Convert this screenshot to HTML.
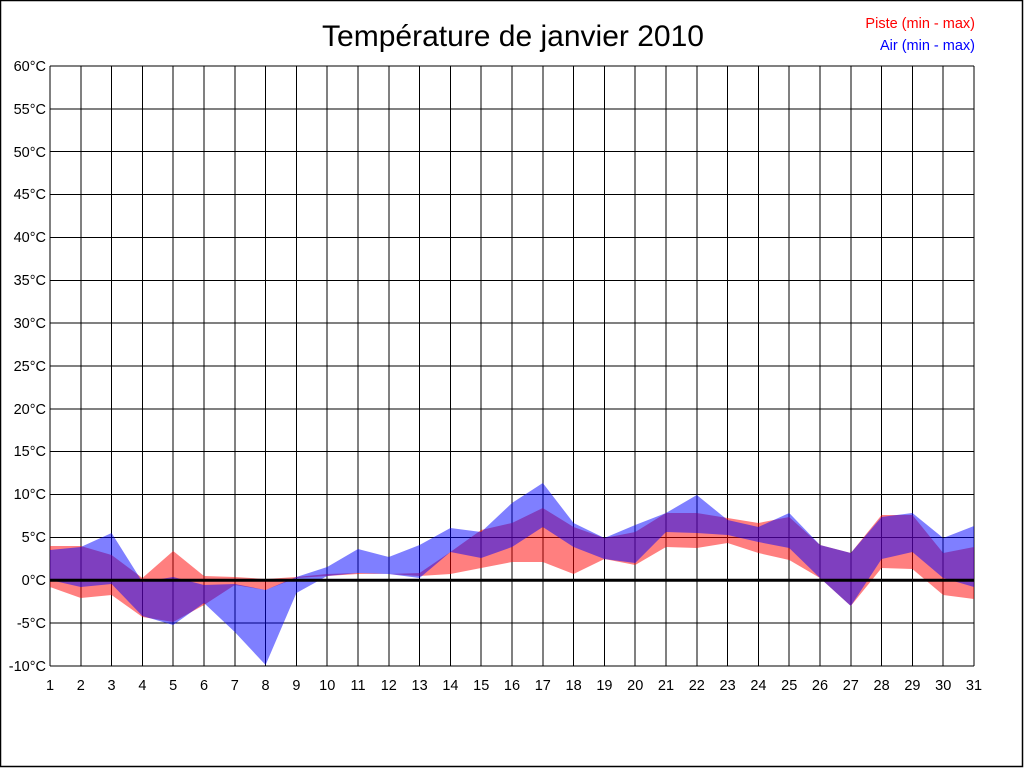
<!DOCTYPE html>
<html><head><meta charset="utf-8"><style>
html,body{margin:0;padding:0;background:#fff}
svg{display:block}
text{font-family:"Liberation Sans",Arial,sans-serif}
</style></head><body>
<svg width="1024" height="768" viewBox="0 0 1024 768" xmlns="http://www.w3.org/2000/svg">
<rect x="0.5" y="0.5" width="1022" height="766" fill="#fff" stroke="#000" stroke-width="1.5"/>
<text x="513" y="46" font-size="30" text-anchor="middle">Température de janvier 2010</text>
<text x="975" y="28" font-size="14.5" fill="#f00" text-anchor="end">Piste (min - max)</text>
<text x="975" y="50" font-size="14.5" fill="#00f" text-anchor="end">Air (min - max)</text>
<g stroke="#000" stroke-width="1" shape-rendering="crispEdges">
<path d="M50 66V666M80.8 66V666M111.6 66V666M142.4 66V666M173.2 66V666M204 66V666M234.8 66V666M265.6 66V666M296.4 66V666M327.2 66V666M358 66V666M388.8 66V666M419.6 66V666M450.4 66V666M481.2 66V666M512 66V666M542.8 66V666M573.6 66V666M604.4 66V666M635.2 66V666M666 66V666M696.8 66V666M727.6 66V666M758.4 66V666M789.2 66V666M820 66V666M850.8 66V666M881.6 66V666M912.4 66V666M943.2 66V666M974 66V666"/>
<path d="M50 66H974M50 108.9H974M50 151.7H974M50 194.6H974M50 237.4H974M50 280.3H974M50 323.1H974M50 366H974M50 408.9H974M50 451.7H974M50 494.6H974M50 537.4H974M50 623.1H974M50 666H974"/>
</g>
<polygon fill="rgba(255,0,0,0.5)" points="50,546 80.8,546 111.6,555 142.4,578 173.2,551 204,576 234.8,577 265.6,579 296.4,577 327.2,574 358,573 388.8,574 419.6,573 450.4,552 481.2,530 512,523 542.8,508 573.6,527 604.4,538 635.2,532 666,513 696.8,513 727.6,518 758.4,523 789.2,517 820,545 850.8,553 881.6,515 912.4,515 943.2,553 974,547 974,599 943.2,595 912.4,569 881.6,568 850.8,606 820,578 789.2,560 758.4,553 727.6,543 696.8,548 666,547 635.2,565 604.4,559 573.6,574 542.8,562 512,562 481.2,568 450.4,574 419.6,576 388.8,574 358,574 327.2,576 296.4,578 265.6,590 234.8,585 204,605 173.2,622 142.4,617 111.6,595 80.8,598 50,587"/>
<polygon fill="rgba(0,0,255,0.5)" points="50,550 80.8,547 111.6,533 142.4,582 173.2,577 204,585 234.8,584 265.6,590 296.4,577 327.2,567 358,549 388.8,557 419.6,545 450.4,528 481.2,532 512,503 542.8,483 573.6,523 604.4,538 635.2,525 666,513 696.8,495 727.6,520 758.4,527 789.2,513 820,545 850.8,553 881.6,517 912.4,513 943.2,538 974,526 974,587 943.2,578 912.4,552 881.6,559 850.8,606 820,578 789.2,548 758.4,542 727.6,535 696.8,533 666,532 635.2,563 604.4,559 573.6,547 542.8,527 512,547 481.2,558 450.4,552 419.6,578 388.8,574 358,573 327.2,576 296.4,593 265.6,665 234.8,632 204,603 173.2,625 142.4,616 111.6,584 80.8,587 50,580"/>
<line x1="50" y1="580.3" x2="974" y2="580.3" stroke="#000" stroke-width="3"/>
<g font-size="14.5" text-anchor="end" fill="#000">
<text x="46" y="71">60°C</text><text x="46" y="114">55°C</text><text x="46" y="157">50°C</text><text x="46" y="199">45°C</text><text x="46" y="242">40°C</text><text x="46" y="285">35°C</text><text x="46" y="328">30°C</text><text x="46" y="371">25°C</text><text x="46" y="414">20°C</text><text x="46" y="456">15°C</text><text x="46" y="499">10°C</text><text x="46" y="542">5°C</text><text x="46" y="585">0°C</text><text x="46" y="628">-5°C</text><text x="46" y="671">-10°C</text>
</g>
<g font-size="14.5" text-anchor="middle" fill="#000">
<text x="50" y="690">1</text><text x="80.8" y="690">2</text><text x="111.6" y="690">3</text><text x="142.4" y="690">4</text><text x="173.2" y="690">5</text><text x="204" y="690">6</text><text x="234.8" y="690">7</text><text x="265.6" y="690">8</text><text x="296.4" y="690">9</text><text x="327.2" y="690">10</text><text x="358" y="690">11</text><text x="388.8" y="690">12</text><text x="419.6" y="690">13</text><text x="450.4" y="690">14</text><text x="481.2" y="690">15</text><text x="512" y="690">16</text><text x="542.8" y="690">17</text><text x="573.6" y="690">18</text><text x="604.4" y="690">19</text><text x="635.2" y="690">20</text><text x="666" y="690">21</text><text x="696.8" y="690">22</text><text x="727.6" y="690">23</text><text x="758.4" y="690">24</text><text x="789.2" y="690">25</text><text x="820" y="690">26</text><text x="850.8" y="690">27</text><text x="881.6" y="690">28</text><text x="912.4" y="690">29</text><text x="943.2" y="690">30</text><text x="974" y="690">31</text>
</g>
</svg>
</body></html>
